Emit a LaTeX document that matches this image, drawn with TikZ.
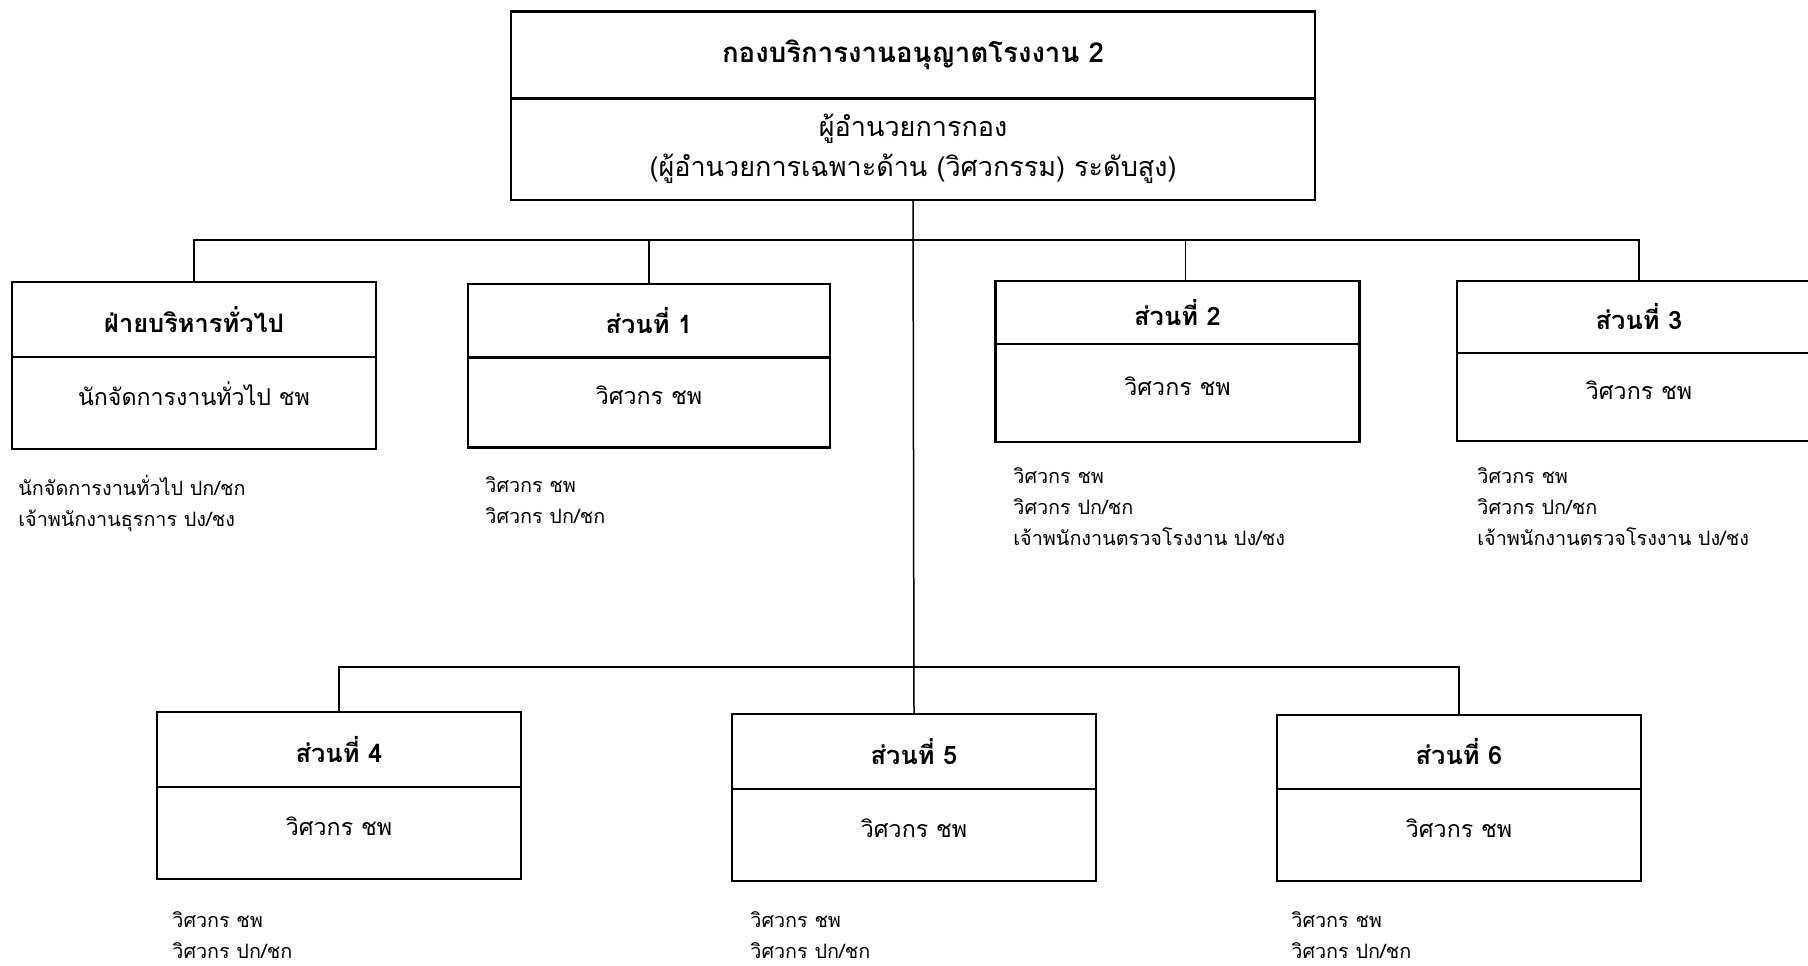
\documentclass[tikz,border=0pt]{standalone}
\usepackage{fontspec}
\newfontfamily\thaifont[Script=Thai]{Loma}
\usetikzlibrary{positioning}

\begin{document}
\begin{tikzpicture}[
	x = 0.5pt, y = -0.5pt,
	every node/.style = {font = \thaifont},
	boxline/.style = {draw, line width = 1.3pt, inner sep = 0pt, outer sep = 0pt},
	head/.style = {boxline, minimum width = 182pt,
		font = \thaifont\bfseries\fontsize{12.7}{15}\selectfont},
	body/.style = {boxline, minimum width = 182pt, text height = 11pt, text depth = 9pt,
		font = \thaifont\fontsize{11.6}{14}\selectfont},
	staff/.style = {anchor = base west, align = left, inner sep = 0pt,
		font = \thaifont\fontsize{9.9}{15.5}\selectfont},
	link/.style = {line width = 0.75pt}]

	\clip (0,0) rectangle (1808,965);

	% top box
	\node[boxline, minimum width = 402pt, minimum height = 43.3pt, font = \thaifont\bfseries\fontsize{13.8}{17}\selectfont] (kong) at (913,55) {กองบริการงานอนุญาตโรงงาน 2};
	\node[boxline, minimum width = 402pt, minimum height = 50.9pt, below = 0pt of kong, align = center, font = \thaifont\fontsize{13.5}{20}\selectfont] (kongb) {ผู้อำนวยการกอง\\(ผู้อำนวยการเฉพาะด้าน (วิศวกรรม) ระดับสูง)};

	% first row
	\node[head, minimum height = 37.5pt] (admin) at (194,319.5) {ฝ่ายบริหารทั่วไป};
	\node[body, minimum height = 46pt, below = 0pt of admin] (adminb) {นักจัดการงานทั่วไป ชพ};
	\node[staff] (adminl) at (18,526) {นักจัดการงานทั่วไป ปก/ชก\\เจ้าพนักงานธุรการ ปง/ชง};

	\node[head, minimum width = 181pt, minimum height = 36.75pt] (sec1) at (649,320.75) {ส่วนที่ 1};
	\node[body, minimum width = 181pt, minimum height = 45pt, below = 0pt of sec1] (sec1b) {วิศวกร ชพ};
	\node[staff] (sec1l) at (485,523) {วิศวกร ชพ\\วิศวกร ปก/ชก};

	\node[head, minimum height = 31.5pt] (sec2) at (1177.5,312.5) {ส่วนที่ 2};
	\node[body, minimum height = 49pt, below = 0pt of sec2] (sec2b) {วิศวกร ชพ};
	\node[staff] (sec2l) at (1013,545) {วิศวกร ชพ\\วิศวกร ปก/ชก\\เจ้าพนักงานตรวจโรงงาน ปง/ชง};

	\node[head, minimum height = 36pt] (sec3) at (1639,317) {ส่วนที่ 3};
	\node[body, minimum height = 44pt, below = 0pt of sec3] (sec3b) {วิศวกร ชพ};
	\node[staff] (sec3l) at (1477,545) {วิศวกร ชพ\\วิศวกร ปก/ชก\\เจ้าพนักงานตรวจโรงงาน ปง/ชง};

	% second row
	\node[head, minimum height = 37.5pt] (sec4) at (339,749.5) {ส่วนที่ 4};
	\node[body, minimum height = 46pt, below = 0pt of sec4] (sec4b) {วิศวกร ชพ};
	\node[staff] (sec4l) at (172,958) {วิศวกร ชพ\\วิศวกร ปก/ชก};

	\node[head, minimum height = 37.5pt] (sec5) at (914,751.5) {ส่วนที่ 5};
	\node[body, minimum height = 46pt, below = 0pt of sec5] (sec5b) {วิศวกร ชพ};
	\node[staff] (sec5l) at (750,958) {วิศวกร ชพ\\วิศวกร ปก/ชก};

	\node[head, minimum height = 37pt] (sec6) at (1459,752) {ส่วนที่ 6};
	\node[body, minimum height = 46pt, below = 0pt of sec6] (sec6b) {วิศวกร ชพ};
	\node[staff] (sec6l) at (1291,958) {วิศวกร ชพ\\วิศวกร ปก/ชก};

	% connectors
	\coordinate (upbus) at (913,240);
	\coordinate (lowbus) at (913,667);
	\draw[link] (kongb.south) -- (sec5.north);
	\draw[link] (admin.north) |- (upbus);
	\draw[link] (sec1.north) |- (upbus);
	\draw[link] ([xshift=4pt]sec2.north) |- (upbus);
	\draw[link] (sec3.north) |- (upbus);
	\draw[link] (sec4.north) |- (lowbus);
	\draw[link] (sec6.north) |- (lowbus);

\end{tikzpicture}
\end{document}
